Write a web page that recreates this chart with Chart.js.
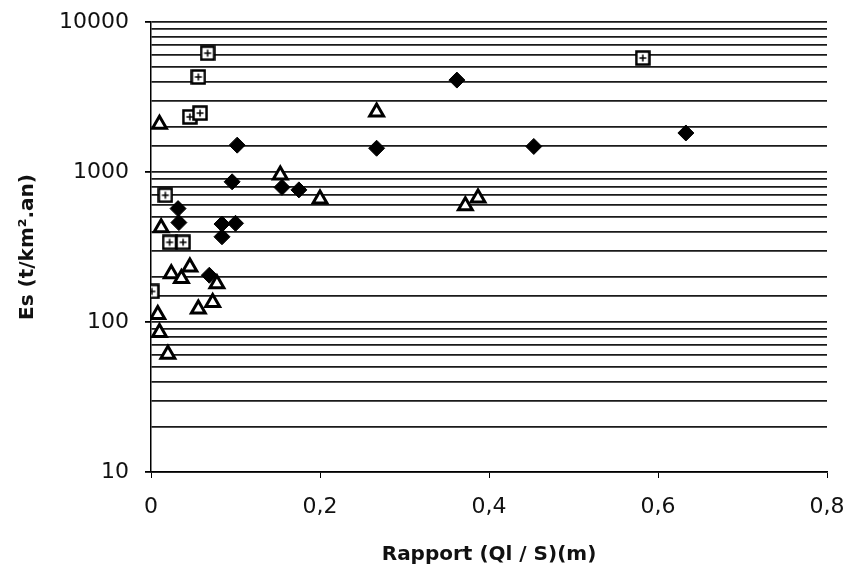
<!DOCTYPE html>
<html>
<head>
<meta charset="utf-8">
<script src="https://cdn.jsdelivr.net/npm/chart.js@4.4.1/dist/chart.umd.min.js"></script>
<style>
  html, body { margin: 0; padding: 0; background: #fff; }
  #wrap { width: 847px; height: 571px; }
</style>
</head>
<body>
<div id="wrap"><canvas id="chart"></canvas></div>
<script>
// values
const diamondX = [0.102, 0.362, 0.267, 0.453, 0.633, 0.096, 0.155, 0.175, 0.032, 0.033, 0.084, 0.100, 0.084, 0.069];
const diamondY = [1510, 4100, 1440, 1480, 1820, 860, 790, 760, 570, 460, 450, 455, 370, 205];

const squareX = [0.067, 0.056, 0.046, 0.058, 0.582, 0.017, 0.022, 0.038, 0.001];
const squareY = [6200, 4300, 2330, 2470, 5750, 700, 340, 340, 160];

const triangleX = [0.010, 0.267, 0.153, 0.200, 0.372, 0.387, 0.012, 0.024, 0.036, 0.046, 0.078, 0.056, 0.073, 0.008, 0.010, 0.020];
const triangleY = [2080, 2510, 955, 660, 595, 670, 425, 210, 195, 233, 180, 122, 135, 112, 85, 61];

const xTicks = [0, 0.2, 0.4, 0.6, 0.8];
const yLabels = [10, 100, 1000, 10000];

function pts(xs, ys) {
    return xs.map((x, i) => ({ x: x, y: ys[i] }));
}

// open square with a small cross inside
function boxedPlus() {
    const c = document.createElement('canvas');
    c.width = 16; c.height = 16;
    const g = c.getContext('2d');
    g.fillStyle = '#fff';
    g.fillRect(1, 1, 14, 14);
    g.strokeStyle = '#000';
    g.lineWidth = 2.5;
    g.strokeRect(1.5, 1.5, 13, 13);
    g.lineWidth = 1.5;
    g.beginPath();
    g.moveTo(8, 4.5); g.lineTo(8, 11.5);
    g.moveTo(4.5, 8); g.lineTo(11.5, 8);
    g.stroke();
    return c;
}

const font = "'DejaVu Sans', Arial, sans-serif";

new Chart(document.getElementById('chart'), {
    type: 'scatter',
    data: {
        datasets: [{
            data: pts(triangleX, triangleY),
            pointStyle: 'triangle',
            pointRadius: 8,
            backgroundColor: '#fff',
            borderColor: '#000',
            borderWidth: 3
        }, {
            data: pts(squareX, squareY),
            pointStyle: boxedPlus(),
            pointRadius: 8
        }, {
            data: pts(diamondX, diamondY),
            pointStyle: 'rectRot',
            pointRadius: 8,
            backgroundColor: '#000',
            borderColor: '#000',
            borderWidth: 1
        }]
    },
    options: {
        responsive: true,
        maintainAspectRatio: false,
        animation: false,
        layout: { padding: { top: 22, right: 20 } },
        plugins: { legend: { display: false }, tooltip: { enabled: false } },
        scales: {
            x: {
                type: 'linear',
                min: 0,
                max: 0.8,
                afterBuildTicks: s => { s.ticks = xTicks.map(v => ({ value: v })); },
                afterFit: s => { s.height = 99; s.paddingLeft = 0; s.paddingRight = 0; },
                border: { color: '#000', width: 1.5 },
                grid: { drawOnChartArea: false, color: '#000', tickLength: 6 },
                ticks: {
                    color: '#111',
                    font: { family: font, size: 22 },
                    padding: 16,
                    maxRotation: 0,
                    callback: v => v === 0 ? '0' : (Math.round(v * 10) / 10).toFixed(1).replace('.', ',')
                },
                title: {
                    display: true,
                    text: 'Rapport (Ql / S)(m)',
                    color: '#111',
                    font: { family: font, size: 20, weight: 'bold' },
                    padding: { top: 12 }
                }
            },
            y: {
                type: 'logarithmic',
                min: 10,
                max: 10000,
                afterFit: s => { s.width = 151; s.paddingTop = 0; s.paddingBottom = 0; },
                border: { color: '#000', width: 1.5 },
                grid: {
                    color: '#1a1a1a',
                    lineWidth: 1.8,
                    tickLength: 6,
                    tickColor: ctx => yLabels.includes(ctx.tick.value) ? '#000' : 'rgba(0,0,0,0)'
                },
                ticks: {
                    autoSkip: false,
                    color: '#111',
                    font: { family: font, size: 22 },
                    padding: 16,
                    callback: v => yLabels.includes(v) ? String(v) : ''
                },
                title: {
                    display: true,
                    text: 'Es (t/km².an)',
                    color: '#111',
                    font: { family: font, size: 20, weight: 'bold' },
                    padding: { top: 16 }
                }
            }
        }
    }
});
</script>
</body>
</html>
